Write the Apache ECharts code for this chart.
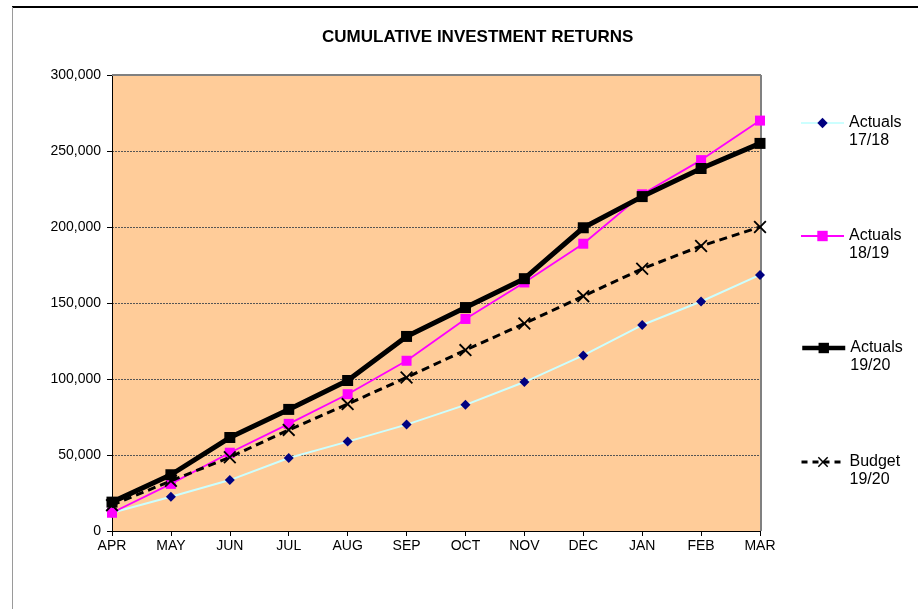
<!DOCTYPE html>
<html>
<head>
<meta charset="utf-8">
<script src="https://cdn.jsdelivr.net/npm/echarts@6/dist/echarts.min.js"></script>
<style>
  html, body { margin: 0; padding: 0; background: #fff; }
  #chart { width: 918px; height: 609px; }
</style>
</head>
<body>
<div id="chart"></div>
<script>
// data
const months = ['APR', 'MAY', 'JUN', 'JUL', 'AUG', 'SEP', 'OCT', 'NOV', 'DEC', 'JAN', 'FEB', 'MAR']
const actuals1718 = [12000, 22500, 33500, 48000, 58800, 70000, 83000, 98000, 115500, 135500, 151000, 168500]
const actuals1819 = [12000, 31000, 51500, 70500, 90000, 112000, 139500, 163500, 189000, 221500, 244000, 270000]
const actuals1920 = [19000, 37000, 61500, 80000, 99000, 128000, 147000, 166000, 199500, 220000, 238500, 255000]
const budget1920 = [17000, 33000, 48500, 66500, 83500, 101000, 119000, 136500, 154500, 172500, 187500, 200000]
const yTicks = [0, 50000, 100000, 150000, 200000, 250000, 300000]

const seriesNames = ['Actuals\n17/18', 'Actuals\n18/19', 'Actuals\n19/20', 'Budget\n19/20']
const legendTops = [91, 204, 316, 430]
const legendLines = [
  { color: '#CCFFFF', width: 2, type: 'solid' },
  { color: '#FF00FF', width: 2, type: 'solid' },
  { color: '#000', width: 4.5, type: 'solid' },
  { color: '#000', width: 3, type: [6, 5] },
]

const font = 'Liberation Sans, Arial, sans-serif'
const crossPath = 'path://M0,1L1,0L5,4L9,0L10,1L6,5L10,9L9,10L5,6L1,10L0,9L4,5Z'

const myChart = echarts.init(document.getElementById('chart'))

// one legend per entry so they sit where the original has them
// a blank first line keeps the first text line level with the icon
const legends = seriesNames.map((name, i) => ({
  data: [name],
  left: 795,
  top: legendTops[i],
  itemWidth: 43,
  itemHeight: 13,
  lineStyle: legendLines[i],
  formatter: (n) => ' \n' + n,
  textStyle: {
    fontFamily: font,
    fontSize: 16,
    color: '#000',
    lineHeight: 18,
  },
}))

myChart.setOption({
  animation: false,
  title: {
    text: 'CUMULATIVE INVESTMENT RETURNS',
    left: 317,
    top: 24,
    textStyle: { fontFamily: font, fontSize: 17, fontWeight: 'bold', color: '#000' },
  },
  legend: legends,
  grid: {
    left: 112,
    right: 158,
    top: 75,
    bottom: 78,
    show: true,
    backgroundColor: '#FFCC99',
    borderWidth: 0,
  },
  graphic: [
    // outer chart frame
    { type: 'line', shape: { x1: 12, y1: 7, x2: 918, y2: 7 }, style: { stroke: '#000', lineWidth: 2 } },
    { type: 'line', shape: { x1: 12.5, y1: 7, x2: 12.5, y2: 609 }, style: { stroke: '#9a9a9a', lineWidth: 1 } },
    // plot area top and right border
    { type: 'line', shape: { x1: 112, y1: 75, x2: 761, y2: 75 }, style: { stroke: '#808080', lineWidth: 2 }, z: 1 },
    { type: 'line', shape: { x1: 761, y1: 75, x2: 761, y2: 531 }, style: { stroke: '#808080', lineWidth: 2 }, z: 1 },
  ],
  xAxis: {
    type: 'category',
    data: months,
    boundaryGap: false,
    axisLine: { lineStyle: { color: '#000', width: 1 } },
    axisTick: { show: true, alignWithLabel: true, length: 5, lineStyle: { color: '#000' } },
    axisLabel: { fontFamily: font, fontSize: 14, color: '#000', margin: 8 },
    splitLine: { show: false },
  },
  yAxis: {
    type: 'value',
    min: 0,
    max: 300000,
    interval: 50000,
    axisLine: { show: true, lineStyle: { color: '#000', width: 1 } },
    axisTick: { show: true, length: 5, lineStyle: { color: '#000' } },
    axisLabel: {
      fontFamily: font,
      fontSize: 14,
      color: '#000',
      margin: 11,
      formatter: (v) => (yTicks.includes(v) ? v.toLocaleString('en-US') : ''),
    },
    splitLine: { show: true, lineStyle: { color: '#555', type: [2, 1], width: 1 } },
  },
  series: [
    {
      name: seriesNames[0],
      type: 'line',
      data: actuals1718,
      symbol: 'diamond',
      symbolSize: 10,
      lineStyle: { color: '#CCFFFF', width: 2 },
      itemStyle: { color: '#000080' },
      z: 2,
    },
    {
      name: seriesNames[1],
      type: 'line',
      data: actuals1819,
      symbol: 'rect',
      symbolSize: 10,
      lineStyle: { color: '#FF00FF', width: 1.8 },
      itemStyle: { color: '#FF00FF' },
      z: 3,
    },
    {
      name: seriesNames[2],
      type: 'line',
      data: actuals1920,
      symbol: 'rect',
      symbolSize: 11,
      lineStyle: { color: '#000', width: 5 },
      itemStyle: { color: '#000' },
      z: 4,
    },
    {
      name: seriesNames[3],
      type: 'line',
      data: budget1920,
      symbol: crossPath,
      symbolSize: 13,
      lineStyle: { color: '#000', width: 3, type: [8, 5] },
      itemStyle: { color: '#000' },
      z: 5,
    },
  ],
})
</script>
</body>
</html>
